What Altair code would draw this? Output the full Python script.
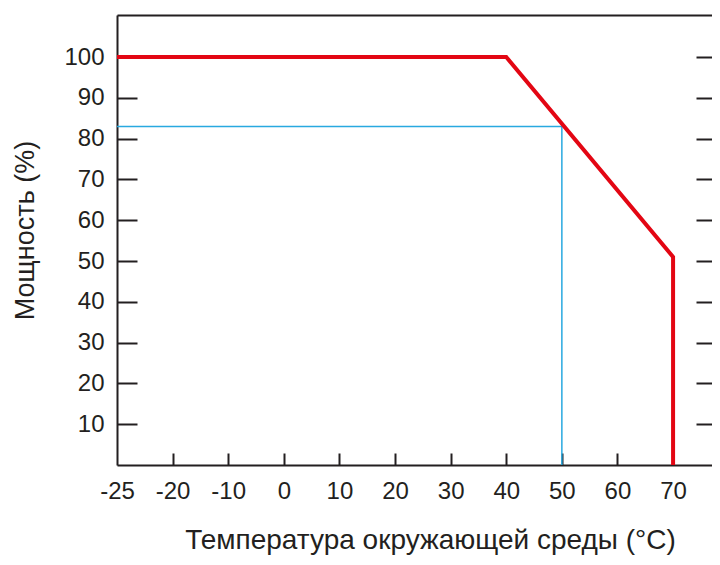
import altair as alt
import pandas as pd

x_labels = ["-25", "-20", "-10", "0", "10", "20", "30", "40", "50", "60", "70"]
y_ticks = [10, 20, 30, 40, 50, 60, 70, 80, 90, 100]

red_temp = [-25, 40, 70, 70]
red_power = [100, 100, 51, 0]

blue_temp = [-25, 50, 50]
blue_power = [83, 83, 0]

def idx(t):
    return x_labels.index(str(t))

red = pd.DataFrame({"x": [idx(t) for t in red_temp], "y": red_power, "i": range(len(red_temp))})
blue = pd.DataFrame({"x": [idx(t) for t in blue_temp], "y": blue_power, "i": range(len(blue_temp))})

AX = "#231f20"
FONT = "Liberation Sans"
label_expr = "[" + ",".join("'%s'" % s for s in x_labels) + "][datum.value]"

xs = alt.Scale(domain=[0, 10.70], nice=False, zero=False)
ys = alt.Scale(domain=[0, 110.3], nice=False, zero=False)

base_axis = dict(grid=False, labelFont=FONT, titleFont=FONT, labelColor=AX, titleColor=AX,
                 domainColor=AX, tickColor=AX, titleFontWeight="normal", labelFlush=False)

x_main = alt.Axis(orient="bottom", values=list(range(len(x_labels))), labelExpr=label_expr,
                  tickSize=0, domainWidth=2, labelFontSize=24, labelPadding=14,
                  title="Температура окружающей среды (°C)", titleFontSize=28, titlePadding=23,
                  titleX=313, **base_axis)
y_main = alt.Axis(orient="left", values=y_ticks, tickSize=0, domainWidth=2, labelFontSize=24,
                  labelPadding=13, title="Мощность (%)", titleFontSize=27, titlePadding=24,
                  titleY=215, **base_axis)

x_tick = alt.Axis(orient="bottom", values=list(range(1, len(x_labels))), labels=False, domain=False,
                  tickSize=12, tickWidth=2, offset=-12, title=None, **base_axis)
y_tick = alt.Axis(orient="left", values=y_ticks, labels=False, domain=False,
                  tickSize=20, tickWidth=2, offset=-20, title=None, **base_axis)

x_top = alt.Axis(orient="top", values=[], labels=False, ticks=False, domain=True, domainWidth=2,
                 title=None, **base_axis)
y_right = alt.Axis(orient="right", values=y_ticks, labels=False, domain=False,
                   tickSize=16, tickWidth=2, offset=-16, title=None, **base_axis)

red_line = alt.Chart(red).mark_line(color="#e30613", strokeWidth=4, strokeJoin="miter").encode(
    x=alt.X("x:Q", scale=xs, axis=x_main),
    y=alt.Y("y:Q", scale=ys, axis=y_main),
    order="i:Q",
)
blue_line = alt.Chart(blue).mark_line(color="#29a9e0", strokeWidth=1.5).encode(
    x=alt.X("x:Q", scale=xs, axis=x_tick),
    y=alt.Y("y:Q", scale=ys, axis=y_tick),
    order="i:Q",
)
frame = alt.Chart(blue).mark_point(opacity=0).encode(
    x=alt.X("x:Q", scale=xs, axis=x_top),
    y=alt.Y("y:Q", scale=ys, axis=y_right),
)

chart = alt.layer(blue_line, red_line, frame).resolve_axis(
    x="independent", y="independent"
).properties(
    width=595, height=450,
    autosize=alt.AutoSizeParams(type="none"),
    padding={"left": 109, "top": 7, "right": 0, "bottom": 92},
).configure_view(stroke=None).configure(background="white")

chart.save("out.html", embed_options={"renderer": "svg", "actions": False})
